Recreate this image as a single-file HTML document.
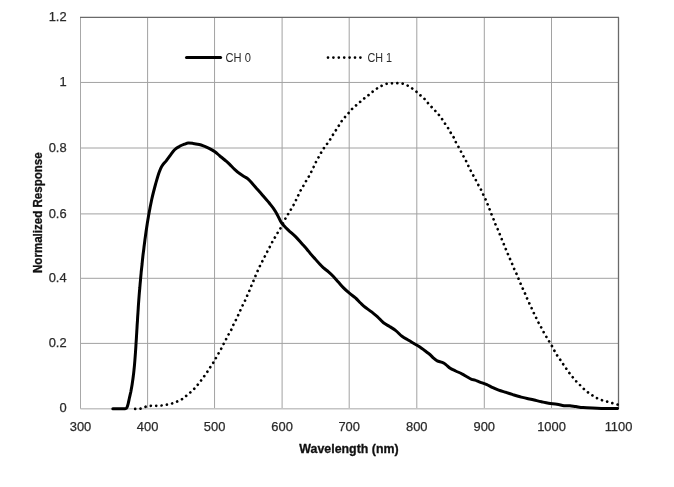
<!DOCTYPE html>
<html><head><meta charset="utf-8"><style>
html,body{margin:0;padding:0;background:#fff;}
svg{display:block;will-change:transform;}
text{font-family:"Liberation Sans",sans-serif;fill:#2a2a2a;}
.b{fill:#111;stroke:#111;stroke-width:0.3;}
</style></head><body>
<svg width="674" height="487" viewBox="0 0 674 487">
<rect width="674" height="487" fill="#fff"/>
<g stroke="#a2a2a2" stroke-width="1" fill="none"><line x1="147.60" y1="17.35" x2="147.60" y2="408.7"/><line x1="214.55" y1="17.35" x2="214.55" y2="408.7"/><line x1="282.10" y1="17.35" x2="282.10" y2="408.7"/><line x1="349.20" y1="17.35" x2="349.20" y2="408.7"/><line x1="416.80" y1="17.35" x2="416.80" y2="408.7"/><line x1="484.30" y1="17.35" x2="484.30" y2="408.7"/><line x1="551.50" y1="17.35" x2="551.50" y2="408.7"/><line x1="80.5" y1="82.45" x2="618.5" y2="82.45"/><line x1="80.5" y1="148.00" x2="618.5" y2="148.00"/><line x1="80.5" y1="213.90" x2="618.5" y2="213.90"/><line x1="80.5" y1="278.30" x2="618.5" y2="278.30"/><line x1="80.5" y1="343.40" x2="618.5" y2="343.40"/></g>
<line x1="80.5" y1="408.7" x2="618.5" y2="408.7" stroke="#c4c4c4" stroke-width="1.5"/>
<line x1="80.5" y1="17.35" x2="80.5" y2="408.7" stroke="#a8a8a8" stroke-width="1"/>
<line x1="80.0" y1="17.35" x2="619.0" y2="17.35" stroke="#6a6a6a" stroke-width="1.3"/>
<line x1="618.5" y1="17.35" x2="618.5" y2="408.7" stroke="#6a6a6a" stroke-width="1.3"/>
<g font-size="12.9" stroke="#2a2a2a" stroke-width="0.25"><text x="66.6" y="21.0" text-anchor="end">1.2</text><text x="66.6" y="86.2" text-anchor="end">1</text><text x="66.6" y="151.7" text-anchor="end">0.8</text><text x="66.6" y="217.6" text-anchor="end">0.6</text><text x="66.6" y="282.0" text-anchor="end">0.4</text><text x="66.6" y="347.1" text-anchor="end">0.2</text><text x="66.6" y="412.4" text-anchor="end">0</text><text x="80.5" y="431.3" text-anchor="middle">300</text><text x="147.6" y="431.3" text-anchor="middle">400</text><text x="214.6" y="431.3" text-anchor="middle">500</text><text x="282.1" y="431.3" text-anchor="middle">600</text><text x="349.2" y="431.3" text-anchor="middle">700</text><text x="416.8" y="431.3" text-anchor="middle">800</text><text x="484.3" y="431.3" text-anchor="middle">900</text><text x="551.5" y="431.3" text-anchor="middle">1000</text><text x="618.5" y="431.3" text-anchor="middle">1100</text></g>
<path d="M129.9 408.9 C130.8 408.9 133.6 408.9 135.4 408.9 C137.2 408.8 139.1 409.0 140.8 408.6 C142.5 408.2 143.8 407.3 145.4 406.8 C147.0 406.3 148.8 406.0 150.6 405.8 C152.4 405.6 154.3 405.9 156.1 405.8 C157.9 405.8 159.7 405.7 161.5 405.5 C163.3 405.3 165.0 405.0 166.7 404.7 C168.4 404.4 170.2 404.0 171.9 403.5 C173.6 403.0 175.2 402.3 176.9 401.6 C178.6 400.9 180.5 400.1 182.0 399.2 C183.5 398.2 184.7 397.0 186.1 395.9 C187.5 394.8 189.1 393.5 190.4 392.3 C191.8 391.1 193.0 390.0 194.2 388.8 C195.4 387.6 196.5 386.2 197.6 384.9 C198.7 383.6 199.7 382.2 200.8 380.8 C201.9 379.4 203.1 377.7 204.2 376.2 C205.3 374.7 206.3 373.3 207.3 371.8 C208.3 370.3 209.1 368.9 210.1 367.4 C211.1 365.9 212.2 364.3 213.2 362.8 C214.1 361.3 214.9 359.8 215.8 358.2 C216.7 356.6 217.6 355.1 218.5 353.5 C219.4 351.9 220.4 350.4 221.2 348.8 C222.0 347.2 222.7 345.8 223.5 344.2 C224.3 342.6 225.3 340.8 226.1 339.2 C226.9 337.6 227.7 336.1 228.5 334.6 C229.3 333.1 230.4 331.7 231.2 330.0 C232.0 328.3 232.7 326.2 233.5 324.5 C234.3 322.8 235.1 321.5 235.9 319.9 C236.7 318.3 237.5 316.7 238.2 315.1 C238.9 313.5 239.6 312.0 240.3 310.4 C241.0 308.8 241.8 307.1 242.6 305.5 C243.4 303.9 244.3 302.1 245.1 300.5 C245.9 298.9 246.5 297.2 247.2 295.6 C247.9 294.0 248.7 292.4 249.4 290.7 C250.1 289.0 250.7 287.3 251.4 285.7 C252.1 284.1 252.8 282.4 253.5 280.8 C254.2 279.2 254.8 277.5 255.5 275.9 C256.2 274.3 256.9 272.6 257.6 271.0 C258.3 269.4 259.1 267.6 259.9 266.0 C260.7 264.4 261.6 262.7 262.4 261.1 C263.2 259.5 264.0 258.1 264.8 256.5 C265.6 254.9 266.5 253.2 267.3 251.6 C268.1 250.0 269.0 248.3 269.9 246.7 C270.8 245.1 271.6 243.3 272.4 241.8 C273.2 240.3 274.0 239.0 274.9 237.5 C275.8 236.0 276.7 234.4 277.6 232.9 C278.5 231.4 279.2 230.8 280.4 228.5 C281.6 226.2 283.8 221.7 285.0 219.4 C286.2 217.1 286.9 216.3 287.8 214.7 C288.7 213.1 289.7 211.5 290.6 210.0 C291.5 208.5 292.4 207.1 293.3 205.5 C294.2 203.9 295.0 202.1 295.8 200.5 C296.6 198.9 297.2 197.4 298.0 195.8 C298.8 194.2 299.6 192.3 300.5 190.7 C301.4 189.1 302.3 187.6 303.2 186.1 C304.1 184.6 304.9 183.1 305.8 181.5 C306.7 179.9 307.8 178.3 308.7 176.7 C309.6 175.1 310.3 173.6 311.1 172.1 C311.9 170.6 312.6 169.0 313.4 167.4 C314.2 165.8 315.0 163.9 315.8 162.3 C316.6 160.7 317.5 159.2 318.4 157.6 C319.2 156.0 320.0 154.5 320.9 153.0 C321.8 151.5 322.7 149.9 323.7 148.4 C324.7 146.9 325.9 145.5 326.9 144.1 C327.9 142.7 328.9 141.3 329.9 139.8 C330.9 138.3 331.8 136.6 332.8 135.0 C333.8 133.4 334.7 132.1 335.7 130.5 C336.7 128.9 337.8 127.2 338.8 125.7 C339.8 124.2 340.6 122.7 341.6 121.2 C342.7 119.7 343.9 118.3 345.1 116.9 C346.3 115.5 347.5 114.3 348.6 113.0 C349.7 111.7 350.7 110.3 351.9 109.1 C353.1 107.9 354.4 106.8 355.8 105.6 C357.2 104.4 358.9 102.9 360.3 101.7 C361.7 100.5 362.8 99.5 364.2 98.4 C365.6 97.3 367.1 96.2 368.5 95.1 C369.9 94.0 371.3 92.7 372.8 91.6 C374.3 90.5 375.8 89.3 377.3 88.3 C378.8 87.3 380.1 86.5 381.6 85.8 C383.2 85.0 384.9 84.2 386.6 83.8 C388.3 83.4 390.1 83.4 391.8 83.3 C393.6 83.2 395.3 83.2 397.1 83.2 C398.9 83.3 400.8 83.2 402.5 83.6 C404.2 84.0 406.0 84.8 407.6 85.6 C409.2 86.4 410.5 87.3 411.9 88.3 C413.3 89.3 414.6 90.3 416.0 91.4 C417.4 92.5 418.7 93.9 420.1 95.1 C421.5 96.3 422.9 97.3 424.2 98.6 C425.5 99.9 426.5 101.3 427.7 102.7 C428.9 104.1 430.1 105.4 431.4 106.8 C432.7 108.2 434.0 109.5 435.3 110.9 C436.6 112.3 437.9 113.6 439.0 115.0 C440.1 116.4 441.1 117.6 442.1 119.1 C443.1 120.6 444.2 122.4 445.2 123.9 C446.2 125.5 447.4 126.9 448.3 128.4 C449.2 129.9 450.0 131.6 450.9 133.1 C451.8 134.6 453.0 136.0 453.8 137.6 C454.6 139.2 455.1 140.8 455.9 142.4 C456.7 144.0 457.6 145.3 458.5 146.9 C459.4 148.5 460.3 150.4 461.2 152.0 C462.1 153.6 462.9 155.2 463.7 156.7 C464.5 158.2 465.4 159.6 466.2 161.2 C467.0 162.8 467.6 164.5 468.4 166.1 C469.1 167.7 469.9 169.1 470.7 170.7 C471.5 172.3 472.4 173.9 473.3 175.5 C474.2 177.1 475.0 178.5 475.8 180.1 C476.6 181.7 477.5 183.5 478.4 185.1 C479.3 186.7 480.3 188.3 481.1 189.9 C481.9 191.5 482.6 193.3 483.4 194.9 C484.1 196.5 484.9 197.9 485.6 199.5 C486.3 201.1 487.0 202.8 487.7 204.5 C488.4 206.2 489.0 207.9 489.7 209.6 C490.4 211.3 490.9 212.9 491.6 214.6 C492.3 216.3 493.0 217.9 493.7 219.6 C494.4 221.3 494.9 223.1 495.6 224.7 C496.3 226.3 497.1 227.9 497.8 229.4 C498.5 230.9 499.0 232.3 499.6 233.8 C500.2 235.3 500.8 236.9 501.5 238.6 C502.2 240.2 502.9 242.1 503.6 243.7 C504.3 245.3 504.8 246.8 505.5 248.4 C506.2 250.0 506.9 251.7 507.6 253.4 C508.3 255.1 509.1 256.8 509.8 258.5 C510.5 260.2 511.3 261.8 512.0 263.5 C512.7 265.2 513.3 266.9 514.0 268.5 C514.7 270.1 515.6 271.8 516.3 273.4 C517.0 275.0 517.6 276.6 518.3 278.2 C519.0 279.8 519.7 281.5 520.4 283.2 C521.1 284.9 521.9 286.6 522.6 288.2 C523.3 289.8 524.1 291.4 524.8 293.0 C525.5 294.6 526.1 296.2 526.8 297.8 C527.5 299.4 528.3 301.1 529.1 302.8 C529.9 304.5 530.7 306.2 531.5 307.9 C532.3 309.6 532.9 311.3 533.7 312.9 C534.5 314.5 535.3 316.1 536.1 317.7 C536.9 319.3 537.7 321.1 538.5 322.7 C539.3 324.3 540.3 325.8 541.1 327.3 C541.9 328.8 542.6 330.4 543.5 331.9 C544.4 333.4 545.3 334.9 546.2 336.5 C547.1 338.1 548.1 339.6 549.0 341.2 C549.9 342.8 550.9 344.3 551.8 345.8 C552.7 347.3 553.4 348.9 554.2 350.4 C555.1 351.9 555.9 353.5 556.9 355.0 C557.9 356.5 559.0 358.1 560.1 359.6 C561.2 361.1 562.2 362.7 563.2 364.2 C564.2 365.7 565.2 367.1 566.2 368.5 C567.2 369.9 568.2 371.5 569.3 372.9 C570.4 374.3 571.5 375.7 572.6 377.1 C573.7 378.5 574.9 379.9 576.1 381.2 C577.3 382.5 578.5 383.6 579.8 384.9 C581.0 386.1 582.3 387.5 583.6 388.7 C584.9 389.9 586.3 391.0 587.7 392.1 C589.1 393.2 590.7 394.3 592.2 395.3 C593.7 396.3 595.2 397.3 596.8 398.1 C598.4 398.9 600.0 399.5 601.7 400.1 C603.4 400.7 605.2 401.1 607.0 401.6 C608.8 402.1 610.5 402.6 612.2 403.1 C613.9 403.6 616.4 404.2 617.4 404.5 C618.4 404.8 618.1 404.7 618.3 404.8" fill="none" stroke="#000" stroke-width="2.7" stroke-linecap="round" stroke-dasharray="0.01 5.3625" stroke-dashoffset="0.1"/>
<path d="M112.8 408.7 C114.8 408.7 122.7 408.9 125.0 408.7 C127.3 408.5 126.3 408.5 126.8 407.7 C127.3 406.9 127.8 405.2 128.2 403.6 C128.6 402.0 129.0 399.9 129.4 398.0 C129.8 396.1 130.3 394.3 130.8 392.0 C131.2 389.7 131.8 386.7 132.2 384.0 C132.6 381.3 133.0 378.7 133.3 376.0 C133.7 373.3 133.9 370.7 134.2 368.0 C134.5 365.3 134.7 362.7 134.9 360.0 C135.1 357.3 135.3 354.7 135.5 352.0 C135.7 349.3 135.9 346.7 136.0 344.0 C136.2 341.3 136.4 338.7 136.5 336.0 C136.7 333.3 136.8 330.7 137.0 328.0 C137.1 325.3 137.3 322.7 137.5 320.0 C137.6 317.3 137.8 314.7 138.0 312.0 C138.2 309.3 138.3 306.7 138.5 304.0 C138.7 301.3 138.9 298.7 139.1 296.0 C139.3 293.3 139.5 290.7 139.8 288.0 C140.0 285.3 140.2 282.7 140.5 280.0 C140.7 277.3 141.0 274.7 141.2 272.0 C141.5 269.3 141.8 266.7 142.1 264.0 C142.3 261.3 142.6 258.7 142.9 256.0 C143.2 253.3 143.6 250.7 143.9 248.0 C144.2 245.3 144.6 242.7 144.9 240.0 C145.3 237.3 145.6 234.7 146.0 232.0 C146.4 229.3 146.8 226.7 147.2 224.0 C147.6 221.3 148.1 218.7 148.5 216.0 C149.0 213.3 149.5 210.7 150.0 208.0 C150.5 205.3 151.1 202.7 151.6 200.0 C152.2 197.3 152.8 194.7 153.5 192.0 C154.2 189.3 154.9 186.7 155.6 184.0 C156.4 181.3 157.2 178.2 158.0 175.7 C158.8 173.2 159.7 170.8 160.5 168.9 C161.3 167.1 161.9 166.0 162.9 164.6 C163.9 163.2 165.4 161.9 166.6 160.3 C167.8 158.8 169.0 157.1 170.3 155.3 C171.6 153.6 173.1 151.3 174.6 149.8 C176.1 148.3 177.9 147.2 179.6 146.3 C181.2 145.4 183.1 144.7 184.5 144.2 C185.9 143.7 186.8 143.2 188.2 143.1 C189.6 143.0 191.2 143.2 193.1 143.4 C194.9 143.6 197.5 144.1 199.3 144.5 C201.2 144.9 202.6 145.5 204.2 146.1 C205.8 146.7 207.3 147.4 209.1 148.3 C210.9 149.2 213.1 150.4 214.9 151.7 C216.7 153.0 218.2 154.6 219.9 156.0 C221.6 157.4 223.2 158.6 224.8 160.0 C226.4 161.4 228.1 162.8 229.7 164.4 C231.3 166.0 232.9 167.8 234.6 169.3 C236.2 170.8 237.9 172.3 239.6 173.5 C241.2 174.7 243.1 175.8 244.5 176.7 C245.9 177.6 247.0 178.1 248.2 179.2 C249.4 180.3 250.5 181.5 251.9 183.1 C253.3 184.7 255.2 186.8 256.8 188.7 C258.4 190.5 260.3 192.6 261.7 194.2 C263.1 195.8 263.7 196.6 265.0 198.1 C266.3 199.6 267.9 201.2 269.3 203.0 C270.7 204.8 272.3 206.7 273.6 208.6 C274.9 210.5 276.2 212.6 277.3 214.7 C278.4 216.8 279.4 219.2 280.4 220.9 C281.4 222.7 282.0 223.5 283.5 225.2 C285.0 226.9 287.6 229.4 289.6 231.3 C291.7 233.2 293.7 234.8 295.8 236.9 C297.9 239.0 300.1 241.6 302.0 243.7 C303.9 245.8 305.6 247.6 306.9 249.2 C308.2 250.8 308.7 251.5 310.0 253.1 C311.3 254.7 313.2 256.8 314.9 258.6 C316.5 260.5 318.4 262.6 319.9 264.2 C321.3 265.8 322.2 266.6 323.6 267.9 C325.0 269.2 326.9 270.5 328.5 271.9 C330.1 273.3 331.8 274.8 333.4 276.5 C335.0 278.2 336.6 280.1 338.3 282.0 C340.0 283.9 341.5 285.8 343.3 287.6 C345.1 289.5 347.3 291.4 349.4 293.1 C351.4 294.8 353.8 296.4 355.6 298.0 C357.5 299.6 358.9 301.5 360.5 303.0 C362.1 304.5 363.4 305.8 365.2 307.2 C367.0 308.6 369.2 310.1 371.2 311.7 C373.2 313.3 375.2 314.8 377.3 316.6 C379.4 318.5 381.4 321.2 383.5 322.8 C385.6 324.4 387.6 325.2 389.6 326.5 C391.7 327.8 393.7 329.0 395.8 330.6 C397.9 332.2 399.9 334.7 402.0 336.3 C404.1 337.9 406.1 338.8 408.1 340.0 C410.2 341.2 412.3 342.5 414.3 343.7 C416.3 344.9 418.4 346.0 420.2 347.2 C422.0 348.4 423.3 349.6 424.9 350.8 C426.5 352.0 428.4 353.3 429.9 354.5 C431.3 355.7 432.4 357.1 433.6 358.2 C434.8 359.3 435.8 360.2 437.2 360.9 C438.6 361.6 440.8 361.8 442.2 362.4 C443.6 363.0 444.6 363.6 445.9 364.6 C447.2 365.6 448.6 367.2 450.2 368.3 C451.8 369.4 453.8 370.1 455.7 371.0 C457.6 371.9 460.0 372.9 461.9 373.9 C463.8 374.8 465.2 375.8 466.8 376.7 C468.4 377.6 470.3 378.8 471.7 379.4 C473.1 380.0 473.5 379.7 475.0 380.2 C476.5 380.7 478.5 381.6 480.5 382.3 C482.5 383.0 484.8 383.7 486.9 384.6 C488.9 385.5 490.8 386.7 492.8 387.6 C494.8 388.5 496.5 389.4 498.7 390.2 C500.9 391.0 503.5 391.6 505.9 392.3 C508.3 393.1 510.6 393.9 513.0 394.7 C515.4 395.4 517.7 396.2 520.1 396.8 C522.5 397.4 524.8 398.0 527.2 398.5 C529.6 399.0 531.9 399.4 534.3 400.0 C536.7 400.6 539.1 401.3 541.5 401.8 C543.9 402.3 546.0 402.8 548.6 403.2 C551.2 403.6 554.3 403.8 556.9 404.2 C559.5 404.6 561.8 405.4 564.0 405.7 C566.2 405.9 567.9 405.5 569.9 405.7 C571.9 405.9 573.7 406.3 575.9 406.6 C578.1 406.9 580.2 407.4 583.0 407.6 C585.8 407.8 589.0 407.9 592.5 408.0 C596.0 408.1 600.1 408.3 604.3 408.4 C608.5 408.5 615.4 408.6 617.6 408.6" fill="none" stroke="#000" stroke-width="3" stroke-linejoin="round" stroke-linecap="round"/>
<line x1="186.5" y1="57.4" x2="220.6" y2="57.4" stroke="#000" stroke-width="3" stroke-linecap="round"/>
<path d="M328 57.6 L361 57.6" fill="none" stroke="#000" stroke-width="2.7" stroke-linecap="round" stroke-dasharray="0.01 5.39"/>
<g font-size="12.5"><text x="225.6" y="61.6" textLength="25.3" lengthAdjust="spacingAndGlyphs">CH 0</text><text x="367.5" y="61.6" textLength="24.6" lengthAdjust="spacingAndGlyphs">CH 1</text></g>
<text class="b" x="299.3" y="453.0" font-size="12.3" font-weight="bold" textLength="99.3" lengthAdjust="spacingAndGlyphs">Wavelength (nm)</text>
<text class="b" transform="translate(42.2,273.0) rotate(-90)" font-size="12" font-weight="bold" textLength="120.7" lengthAdjust="spacingAndGlyphs">Normalized Response</text>
</svg>
</body></html>
